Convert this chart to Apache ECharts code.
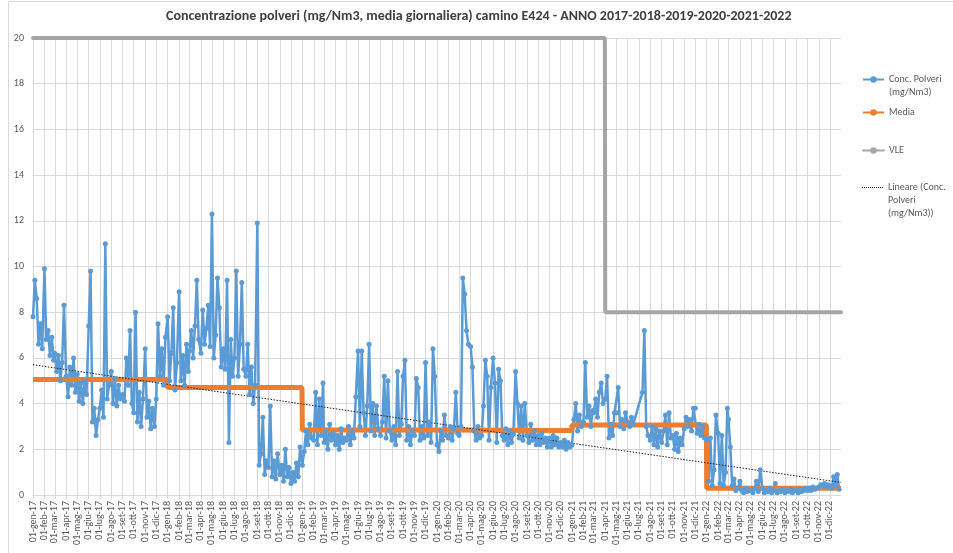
<!DOCTYPE html>
<html>
<head>
<meta charset="utf-8">
<script src="https://cdn.jsdelivr.net/npm/echarts@6/dist/echarts.min.js"></script>
<style>
  html, body { margin: 0; padding: 0; background: #fff; }
  #chart { width: 953px; height: 553px; }
</style>
</head>
<body>
<div id="chart"></div>
<script>
// giorni del mese in cui è letto ogni campione (6 per mese)
const giorniCampione = [1, 6, 11, 16, 21, 26]
const mesi = ['gen', 'feb', 'mar', 'apr', 'mag', 'giu', 'lug', 'ago', 'set', 'ott', 'nov', 'dic']
const yTicks = [0, 2, 4, 6, 8, 10, 12, 14, 16, 18, 20]

// Conc. Polveri (mg/Nm3) - 12 mesi x 6 campioni per anno
const conc2017 = [
  7.8, 9.4, 8.6, 6.6, 7.5, 6.4,
  9.9, 6.8, 7.2, 6.1, 6.9, 5.9,
  6.2, 5.4, 6.1, 5.0, 5.8, 8.3,
  5.2, 4.3, 5.6, 4.8, 6.0, 4.5,
  5.3, 4.1, 4.9, 4.0, 5.0, 4.4,
  7.4, 9.8, 3.2, 3.8, 2.6, 3.3,
  3.8, 4.6, 3.4, 11.0, 4.2, 4.8,
  5.4, 4.0, 5.1, 3.9, 4.8, 4.2,
  4.4, 4.1, 6.0, 4.8, 7.2, 4.0,
  3.6, 8.0, 3.2, 4.5, 3.0, 4.2,
  6.4, 3.4, 4.1, 2.9, 3.8, 3.0,
  4.2, 7.5, 5.2, 6.4, 4.8, 6.9
]
const conc2018 = [
  7.8, 5.0, 6.2, 8.2, 4.6, 5.8,
  8.9, 5.0, 6.1, 4.8, 6.6, 5.4,
  6.3, 7.2, 6.0, 7.4, 9.4, 6.8,
  6.2, 8.1, 6.6, 7.3, 8.3, 6.5,
  12.3, 6.0, 7.0, 9.5, 8.2, 5.6,
  6.4, 5.5, 9.4, 2.3, 6.8, 5.2,
  6.0, 9.8, 5.2, 6.6, 9.3, 5.5,
  5.2, 6.6, 4.4, 5.6, 4.0, 4.8,
  11.9, 1.3, 1.8, 3.4, 0.9, 1.5,
  1.2, 3.9, 0.8, 1.5, 0.7, 1.8,
  0.9, 1.3, 0.6, 2.0, 0.8, 1.2,
  0.5, 1.0, 0.6, 1.4, 0.8, 2.1
]
const conc2019 = [
  1.3, 1.9, 2.8, 2.2, 3.1, 2.5,
  2.4, 4.5, 2.2, 4.2, 2.6, 4.9,
  2.3, 2.8, 2.0, 3.1, 2.4, 2.7,
  2.2, 2.6, 2.0, 2.9, 2.3, 2.5,
  2.4, 3.0, 2.2, 2.8, 2.5, 4.3,
  6.3, 3.0, 6.3, 3.6, 2.6, 3.9,
  6.6, 2.8, 4.0, 2.6, 3.9, 2.9,
  2.6, 3.2, 5.2, 2.5, 5.0, 2.8,
  2.4, 3.0, 2.2, 5.4, 2.6, 3.1,
  5.2, 5.9, 2.4, 3.0, 2.2, 2.8,
  2.6, 5.1, 4.7, 2.4, 3.0, 2.5,
  5.8, 2.6, 3.2, 2.3, 6.4, 5.2
]
const conc2020 = [
  2.2, 1.9, 2.8, 2.4, 3.5, 2.6,
  2.5, 3.0, 2.4, 2.9, 4.5, 2.7,
  2.6, 3.0, 9.5, 8.8, 7.2, 6.6,
  6.5, 5.6, 2.8, 2.4, 3.0, 2.5,
  2.6, 3.9, 5.9, 5.2, 2.4, 4.7,
  6.0, 4.9, 2.3, 5.5, 5.0, 2.6,
  2.4, 2.9, 2.2, 2.8, 2.3, 2.7,
  5.4, 4.0, 2.5, 3.9, 2.4, 4.0,
  2.6, 2.3, 3.1, 2.4, 2.8, 2.2,
  2.6, 2.2, 2.7, 2.3, 2.5, 2.1,
  2.5, 2.1, 2.6, 2.2, 2.5, 2.1,
  2.3, 2.1, 2.4, 2.0, 2.3, 2.1
]
const conc2021 = [
  2.2, 3.3, 4.0, 2.8, 3.5, 3.0,
  3.2, 5.8, 3.4, 3.9, 3.0, 3.7,
  3.6, 4.2, 3.4, 4.5, 4.9, 4.0,
  4.2, 5.2, 2.5, 3.1, 2.6, 3.6,
  3.6, 4.7, 3.0, 3.3, 2.9, 3.6,
  3.2, 3.0, 3.4, 3.1, null, null,
  null, null, 4.5, 7.2, 3.0, 2.6,
  2.4, 3.0, 2.2, 2.9, 2.1, 2.8,
  2.3, 2.8, 3.5, 2.2, 3.6, 2.5,
  2.6, 2.0, 2.7, 1.9, 2.5, 2.2,
  2.9, 3.4, 3.0, 3.3, 2.8, 3.8,
  3.8, 2.7, 3.1, 2.6, 3.0, 2.5
]
const conc2022 = [
  2.4, 0.6, 2.5, 0.4, 1.1, 3.5,
  2.7, 0.5, 2.6, 0.4, 1.0, 3.8,
  3.3, 2.1, 0.4, 0.7, 0.2, 0.3,
  0.6, 0.2, 0.1, 0.3, 0.15, 0.2,
  0.2, 0.1, 0.3, 0.6, 0.15, 1.1,
  0.3, 0.1, 0.2, 0.15, 0.3, 0.1,
  0.2, 0.5, 0.1, 0.2, 0.15, 0.25,
  0.1, 0.2, 0.15, 0.25, 0.1, 0.2,
  0.2, 0.1, 0.25, 0.15, 0.2, 0.3,
  0.2, 0.3, 0.2, 0.35, 0.25, 0.3,
  0.35, 0.45, 0.4, 0.5, 0.35, 0.45,
  0.4, 0.3, 0.8, 0.4, 0.9, 0.25
]

// Media annua
const mediaAnni = [2017, 2018, 2019, 2020, 2021, 2022]
const mediaValori = [5.05, 4.7, 2.84, 2.82, 3.06, 0.3]

// VLE
const vleDate = ['2017-01-01', '2021-03-31', '2021-04-01', '2022-12-31']
const vleValori = [20, 20, 8, 8]

// Lineare (Conc. Polveri)
const trendDate = ['2017-01-01', '2022-12-31']
const trendValori = [5.7, 0.55]

const FONT = "Carlito, 'Liberation Sans Narrow', 'Liberation Sans', sans-serif"
const pad = n => String(n).padStart(2, '0')

// asse: un giorno per categoria
const giorni = []
for (let t = Date.UTC(2017, 0, 1); t <= Date.UTC(2022, 11, 31); t += 86400000) {
  giorni.push(new Date(t).toISOString().slice(0, 10))
}
const isPrimoDelMese = (i, v) => v.slice(8) === '01'

const getConcData = () => {
  const out = []
  const anni = [[2017, conc2017], [2018, conc2018], [2019, conc2019],
    [2020, conc2020], [2021, conc2021], [2022, conc2022]]
  anni.forEach(([anno, valori]) => {
    valori.forEach((v, i) => {
      if (v === null) return
      const mese = Math.floor(i / giorniCampione.length) + 1
      const giorno = giorniCampione[i % giorniCampione.length]
      out.push([`${anno}-${pad(mese)}-${pad(giorno)}`, v])
    })
  })
  return out
}
const getMediaData = () => {
  const out = []
  mediaAnni.forEach((anno, i) => {
    out.push([`${anno}-01-01`, mediaValori[i]])
    out.push([`${anno}-12-31`, mediaValori[i]])
  })
  return out
}

// icona tratteggiata per la linea di tendenza
let dotIcon = 'path://'
for (let k = 0; k < 11; k++) dotIcon += `M${k * 2},0h1v1h-1z`

const legendNames = {
  'Conc. Polveri (mg/Nm3)': '\nConc. Polveri\n(mg/Nm3)',
  'Media': 'Media',
  'VLE': 'VLE',
  'Lineare (Conc. Polveri (mg/Nm3))': '\n\nLineare (Conc.\nPolveri\n(mg/Nm3))'
}
const legendItem = (name, top, extra) => Object.assign({
  data: [name],
  orient: 'vertical',
  left: 862,
  top: top,
  padding: 0,
  itemWidth: 21,
  itemHeight: 8,
  formatter: n => legendNames[n],
  textStyle: { color: '#595959', fontSize: 10, lineHeight: 13, fontFamily: FONT }
}, extra || {})

const mChart = echarts.init(document.getElementById('chart'), null, { renderer: 'canvas' })
mChart.setOption({
  animation: false,
  backgroundColor: '#fff',
  title: {
    text: 'Concentrazione polveri (mg/Nm3, media giornaliera) camino E424 - ANNO 2017-2018-2019-2020-2021-2022',
    left: 166,
    top: 9,
    padding: 0,
    textStyle: { color: '#404040', fontSize: 14, fontWeight: 'bold', fontFamily: FONT }
  },
  graphic: [{
    type: 'rect',
    shape: { x: 8.5, y: 1.5, width: 1000, height: 600 },
    style: { fill: 'none', stroke: '#d9d9d9', lineWidth: 1 },
    silent: true
  }],
  legend: [
    legendItem('Conc. Polveri (mg/Nm3)', 60),
    legendItem('Media', 106),
    legendItem('VLE', 144),
    legendItem('Lineare (Conc. Polveri (mg/Nm3))', 155, {
      data: [{ name: 'Lineare (Conc. Polveri (mg/Nm3))', icon: dotIcon }],
      itemHeight: 1
    })
  ],
  grid: { left: 33, right: 112, top: 38, bottom: 58 },
  xAxis: {
    type: 'category',
    data: giorni,
    boundaryGap: false,
    axisLine: { show: false },
    axisTick: { show: true, interval: isPrimoDelMese, length: 4, lineStyle: { color: '#d9d9d9' } },
    splitLine: { show: true, interval: isPrimoDelMese, lineStyle: { color: '#d9d9d9', width: 1 } },
    axisLabel: {
      interval: isPrimoDelMese,
      rotate: 90,
      margin: 6,
      color: '#595959',
      fontSize: 10,
      fontFamily: FONT,
      formatter: v => `01-${mesi[+v.slice(5, 7) - 1]}-${v.slice(2, 4)}`
    }
  },
  yAxis: {
    type: 'value',
    min: yTicks[0],
    max: yTicks[yTicks.length - 1],
    interval: 2,
    axisLine: { show: false },
    axisTick: { show: false },
    splitLine: { lineStyle: { color: '#d9d9d9' } },
    axisLabel: { color: '#595959', fontSize: 10, margin: 9, fontFamily: FONT }
  },
  series: [
    {
      name: 'Conc. Polveri (mg/Nm3)',
      type: 'line',
      data: getConcData(),
      color: '#5b9bd5',
      symbol: 'circle',
      symbolSize: 5,
      showAllSymbol: true,
      lineStyle: { width: 2.5, color: '#5b9bd5' },
      itemStyle: { color: '#5b9bd5' }
    },
    {
      name: 'Media',
      type: 'line',
      data: getMediaData(),
      color: '#ed7d31',
      symbol: 'none',
      lineStyle: { width: 5, color: '#ed7d31' }
    },
    {
      name: 'VLE',
      type: 'line',
      data: vleDate.map((d, i) => [d, vleValori[i]]),
      color: '#a5a5a5',
      symbol: 'none',
      clip: false,
      lineStyle: { width: 4, color: '#a5a5a5', cap: 'round' }
    },
    {
      name: 'Lineare (Conc. Polveri (mg/Nm3))',
      type: 'line',
      data: trendDate.map((d, i) => [d, trendValori[i]]),
      color: '#222',
      symbol: 'none',
      lineStyle: { width: 1, type: [1.5, 1.5], color: '#222' }
    }
  ]
})
</script>
</body>
</html>
